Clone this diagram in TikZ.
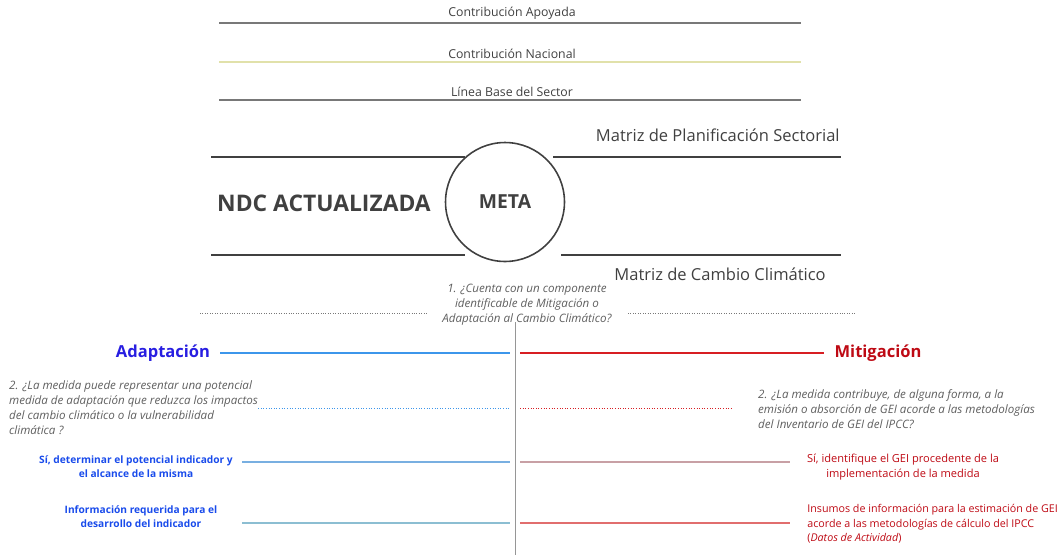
\documentclass[tikz,border=0pt]{standalone}
\usepackage{fontspec}
\setmainfont{Open Sans}
\usetikzlibrary{positioning}

\definecolor{darkText}{RGB}{64,64,64}
\definecolor{greyText}{RGB}{95,95,95}
\definecolor{lineGray}{RGB}{120,120,120}
\definecolor{axisGray}{RGB}{150,150,150}
\definecolor{lineOlive}{RGB}{225,225,170}
\definecolor{adaptBlue}{RGB}{40,30,225}
\definecolor{infoBlue}{RGB}{25,75,235}
\definecolor{barBlue}{RGB}{60,150,235}
\definecolor{paleBlue}{RGB}{120,175,225}
\definecolor{tealBlue}{RGB}{140,190,210}
\definecolor{mitRed}{RGB}{190,10,20}
\definecolor{barRed}{RGB}{215,30,35}
\definecolor{roseGray}{RGB}{200,160,165}
\definecolor{softRed}{RGB}{225,110,110}

\tikzset{
  toplabel/.style={font=\fontsize{7}{8}\selectfont, text=darkText},
  topline/.style={line width=0.6pt},
  matrixlabel/.style={font=\fontsize{9.4}{11}\selectfont, text=darkText, inner sep=0pt},
  frameline/.style={draw=darkText, line width=0.9pt},
  question/.style={font=\fontsize{6.6}{8.5}\selectfont\itshape, text=greyText},
  branch/.style={font=\fontsize{9.4}{11}\selectfont\bfseries},
  answer/.style={font=\fontsize{5.8}{8}\selectfont\bfseries, align=center},
}

\begin{document}
\begin{tikzpicture}[x=0.02cm, y=-0.02cm]
  \useasboundingbox (0,0) rectangle (1062,555);

  % top reference lines
  \foreach \yy/\ty/\lbl/\col in {23/13/Contribución Apoyada/lineGray,
                                 62/54/Contribución Nacional/lineOlive,
                                 100/92/Línea Base del Sector/lineGray}{
    \node[toplabel] (lbl\yy) at (512,\ty) {\lbl};
    \coordinate (topL\yy) at (219,\yy);
    \coordinate (topR\yy) at (801,\yy);
    \draw[topline, draw=\col] (topL\yy) -- (topR\yy);
  }

  % central goal
  \node[draw=darkText, line width=0.9pt, circle, minimum size=2.38cm,
        font=\fontsize{11}{13}\selectfont\bfseries, text=darkText] (meta) at (505,202) {META};
  \node[font=\fontsize{13}{15}\selectfont\bfseries, text=darkText] (ndc) at (324,203) {NDC ACTUALIZADA};
  \node[matrixlabel, anchor=east] (planif) at (840,135) {Matriz de Planificación Sectorial};
  \node[matrixlabel, anchor=east] (cambio) at (826,274) {Matriz de Cambio Climático};

  \coordinate (upL1) at (211,157); \coordinate (upL2) at (465,157);
  \coordinate (upR1) at (553,157); \coordinate (upR2) at (841,157);
  \coordinate (loL1) at (211,255); \coordinate (loL2) at (465,255);
  \coordinate (loR1) at (561,255); \coordinate (loR2) at (841,255);
  \draw[frameline] (upL1) -- (upL2);
  \draw[frameline] (upR1) -- (upR2);
  \draw[frameline] (loL1) -- (loL2);
  \draw[frameline] (loR1) -- (loR2);

  % question 1
  \node[question, align=center] (q1) at (527,305)
    {1. ¿Cuenta con un componente\\identificable de Mitigación o\\Adaptación al Cambio Climático?};
  \coordinate (q1L1) at (200,313); \coordinate (q1L2) at (428,313);
  \coordinate (q1R1) at (628,313); \coordinate (q1R2) at (856,313);
  \draw[lineGray, densely dotted, line width=0.4pt] (q1L1) -- (q1L2);
  \draw[lineGray, densely dotted, line width=0.4pt] (q1R1) -- (q1R2);

  % split
  \coordinate (axTop) at (515,322);
  \coordinate (axBot) at (515,555);
  \draw[axisGray, line width=0.5pt] (axTop) -- (axBot);

  % branches
  \node[branch, text=adaptBlue] (adapt) at (163,353) {Adaptación};
  \node[branch, text=mitRed] (mitig) at (878,353) {Mitigación};
  \coordinate (adL) at (220,353); \coordinate (adR) at (510,353);
  \coordinate (miL) at (520,353); \coordinate (miR) at (824,353);
  \draw[barBlue, line width=1.3pt] (adL) -- (adR);
  \draw[barRed, line width=1.3pt] (miL) -- (miR);

  % question 2
  \node[question, anchor=west, align=left] (q2a) at (3,408)
    {2. ¿La medida puede representar una potencial\\medida de adaptación que reduzca los impactos\\del cambio climático o la vulnerabilidad\\climática ?};
  \node[question, anchor=west, align=left] (q2m) at (752,409)
    {2. ¿La medida contribuye, de alguna forma, a la\\emisión o absorción de GEI acorde a las metodologías\\del Inventario de GEI del IPCC?};
  \coordinate (q2aL) at (258,408); \coordinate (q2aR) at (510,408);
  \coordinate (q2mL) at (520,408); \coordinate (q2mR) at (731,408);
  \draw[barBlue, densely dotted, line width=0.5pt] (q2aL) -- (q2aR);
  \draw[barRed, densely dotted, line width=0.5pt] (q2mL) -- (q2mR);

  % answers
  \node[answer, text=infoBlue] (siA) at (136,467)
    {Sí, determinar el potencial indicador y\\el alcance de la misma};
  \node[answer, text=mitRed, font=\fontsize{6.3}{8.2}\selectfont] (siM) at (903,467)
    {Sí, identifique el GEI procedente de la\\implementación de la medida};
  \coordinate (siAL) at (242,462); \coordinate (siAR) at (510,462);
  \coordinate (siML) at (520,462); \coordinate (siMR) at (790,462);
  \draw[paleBlue, line width=0.6pt] (siAL) -- (siAR);
  \draw[roseGray, line width=0.9pt] (siML) -- (siMR);

  \node[answer, text=infoBlue] (infA) at (141,517)
    {Información requerida para el\\desarrollo del indicador};
  \node[anchor=west, align=left, text=mitRed, inner sep=0pt,
        font=\fontsize{6.1}{8.2}\selectfont] (infM) at (807,524)
    {Insumos de información para la estimación de GEI\\acorde a las metodologías de cálculo del IPCC\\(\textit{Datos de Actividad})};
  \coordinate (infAL) at (242,523); \coordinate (infAR) at (510,523);
  \coordinate (infML) at (520,523); \coordinate (infMR) at (790,523);
  \draw[tealBlue, line width=0.6pt] (infAL) -- (infAR);
  \draw[softRed, line width=0.6pt] (infML) -- (infMR);
\end{tikzpicture}
\end{document}
